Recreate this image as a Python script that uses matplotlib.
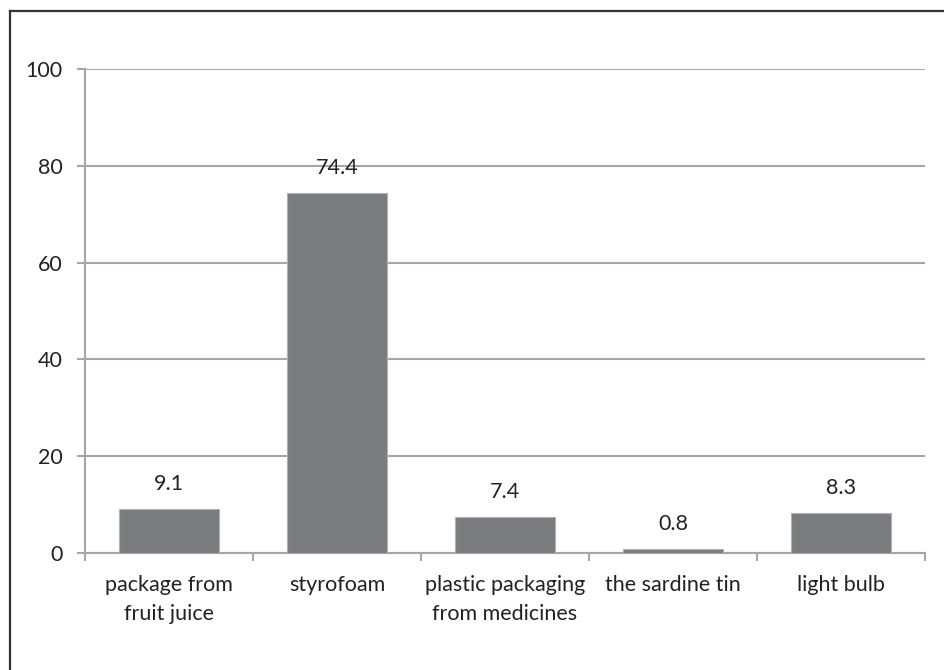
import numpy as np
import matplotlib.pyplot as plt
from matplotlib.lines import Line2D

categories = ['package from\nfruit juice', 'styrofoam', 'plastic packaging\nfrom medicines',
              'the sardine tin', 'light bulb']
values = [9.1, 74.4, 7.4, 0.8, 8.3]
yticks = [0, 20, 40, 60, 80, 100]

plt.rcParams['font.family'] = ['Lato', 'DejaVu Sans']

fig = plt.figure(figsize=(9.44, 6.70), dpi=100)
ax = fig.add_axes([85/944, 1 - 553/670, 840/944, 484/670])

x = np.arange(len(categories))
ax.bar(x, values, width=0.59, color='#7b7c80', edgecolor='#b0b0b0', linewidth=0.8, zorder=3)

for xi, v in zip(x, values):
    ax.annotate(f'{v}', (xi, v), xytext=(0, 11), textcoords='offset points',
                ha='center', va='bottom', fontsize=15.5, color='#222222')

ax.set_xlim(-0.5, len(categories) - 0.5)
ax.set_ylim(0, 100)
ax.set_yticks(yticks)
ax.set_yticklabels([str(t) for t in yticks], fontsize=15.5, color='#222222')
ax.yaxis.grid(True, color='#a6a6a6', linewidth=1.5, zorder=0)
ax.tick_params(axis='y', length=6, width=1.5, color='#a6a6a6', pad=10)

ax.set_xticks(x)
ax.set_xticklabels(categories, fontsize=15.5, color='#222222', linespacing=1.55)
ax.set_xticks(np.arange(len(categories) + 1) - 0.5, minor=True)
ax.tick_params(axis='x', which='major', length=0, pad=16)
ax.tick_params(axis='x', which='minor', length=6, width=1.5, color='#a6a6a6')

for side in ['top', 'right']:
    ax.spines[side].set_visible(False)
for side in ['left', 'bottom']:
    ax.spines[side].set_color('#a6a6a6')
    ax.spines[side].set_linewidth(1.5)

# outer frame (only left and top edges show in the picture)
fig.add_artist(Line2D([9.5/944, 9.5/944], [0, 1 - 11/670], transform=fig.transFigure,
                      color='#333333', linewidth=1.6))
fig.add_artist(Line2D([9.5/944, 1], [1 - 11/670, 1 - 11/670], transform=fig.transFigure,
                      color='#333333', linewidth=1.6))

fig.savefig('out.png', dpi=100, facecolor='white')
